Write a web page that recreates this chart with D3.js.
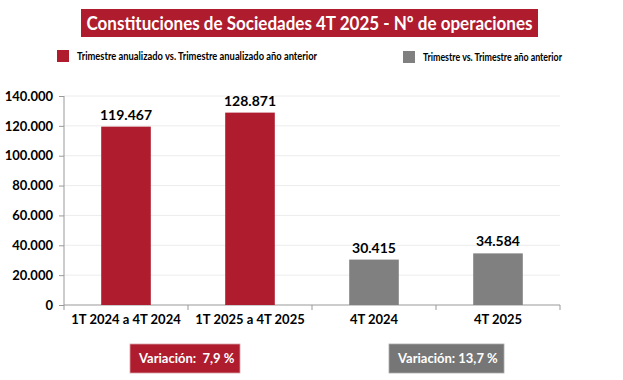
<!DOCTYPE html>
<html>
<head>
<meta charset="utf-8">
<script src="https://cdn.jsdelivr.net/npm/d3@7"></script>
<style>
  body { margin: 0; background: #fff; }
  svg { display: block; font-family: Lato, "Open Sans", sans-serif; }
</style>
</head>
<body>
<div id="chart"></div>
<script>
const categories = ["1T 2024 a 4T 2024", "1T 2025 a 4T 2025", "4T 2024", "4T 2025"];
const values = [119467, 128871, 30415, 34584];
const groups = ["anual", "anual", "trim", "trim"];
const yTicks = [0, 20000, 40000, 60000, 80000, 100000, 120000, 140000];
const legendLabels = ["Trimestre anualizado vs. Trimestre anualizado año anterior", "Trimestre vs. Trimestre año anterior"];
const variations = ["Variación:  7,9 %", "Variación: 13,7 %"];
const title = "Constituciones de Sociedades 4T 2025 - Nº de operaciones";

const red = "#AE1C2E", grey = "#808080";
const colour = d3.scaleOrdinal().domain(["anual", "trim"]).range([red, grey]);
const fmt = d3.formatLocale({ decimal: ",", thousands: ".", grouping: [3], currency: ["", "€"] }).format(",d");

const W = 623, H = 380;
const svg = d3.select("#chart").append("svg").attr("width", W).attr("height", H);

const x = d3.scaleBand().domain(categories).range([64, 560]).paddingInner(0.6).paddingOuter(0.3);
const y = d3.scaleLinear().domain([0, 140000]).range([305, 96]);

// title
const tg = svg.append("g");
tg.append("rect").attr("x", 81).attr("y", 9).attr("width", 457).attr("height", 28).attr("fill", red);
tg.append("text").attr("x", 309.5).attr("y", 29.5).attr("text-anchor", "middle")
  .attr("fill", "#fff").attr("font-weight", "bold").attr("font-size", 19)
  .attr("textLength", 446).attr("lengthAdjust", "spacingAndGlyphs").text(title);

// legend
const legX = [57, 403], legTextW = [240, 139];
legendLabels.forEach((l, i) => {
  svg.append("rect").attr("x", legX[i]).attr("y", 50 + i).attr("width", 12).attr("height", 12)
    .attr("fill", i ? grey : red);
  svg.append("text").attr("x", legX[i] + 20).attr("y", 60 + i).attr("font-size", 11)
    .attr("font-weight", "bold").attr("fill", "#000")
    .attr("textLength", legTextW[i]).attr("lengthAdjust", "spacingAndGlyphs").text(l);
});

// gridlines
svg.append("g").selectAll("line").data(yTicks.slice(1)).join("line")
  .attr("x1", 64).attr("x2", 560).attr("y1", d => y(d)).attr("y2", d => y(d))
  .attr("stroke", "#ececec").attr("stroke-width", 1);

// y axis
const ya = svg.append("g").attr("transform", "translate(64,0)")
  .call(d3.axisLeft(y).tickValues(yTicks).tickFormat(fmt).tickSize(5).tickPadding(6));
ya.select(".domain").attr("stroke", "#999").attr("d", `M0,${y(140000)}V${y(0)}`);
ya.selectAll(".tick line").attr("stroke", "#999");
ya.selectAll("text").attr("font-size", 13).attr("font-weight", "bold").attr("fill", "#000")
  .attr("font-family", "Lato");

// x axis
const xa = svg.append("g").attr("transform", `translate(0,${y(0)})`)
  .call(d3.axisBottom(x).tickSize(0).tickPadding(10));
xa.select(".domain").attr("stroke", "#999").attr("d", "M64,0H560");
xa.selectAll("text").attr("font-size", 13).attr("font-weight", "bold").attr("fill", "#000")
  .attr("font-family", "Lato");
const bounds = d3.range(categories.length + 1).map(i => 64 + i * (496 / categories.length));
xa.append("g").selectAll("line").data(bounds).join("line")
  .attr("x1", d => d).attr("x2", d => d).attr("y1", 0).attr("y2", 5).attr("stroke", "#999");

// bars
svg.append("g").selectAll("rect").data(values).join("rect")
  .attr("x", (d, i) => x(categories[i])).attr("width", x.bandwidth())
  .attr("y", d => y(d)).attr("height", d => y(0) - y(d))
  .attr("fill", (d, i) => colour(groups[i]));

// value labels
svg.append("g").selectAll("text").data(values).join("text")
  .attr("x", (d, i) => x(categories[i]) + x.bandwidth() / 2).attr("y", d => y(d) - 7)
  .attr("text-anchor", "middle").attr("font-size", 14).attr("font-weight", "bold")
  .text(d => fmt(d));

// variation boxes
const boxX = [130, 389], boxW = [110, 115];
variations.forEach((v, i) => {
  svg.append("rect").attr("x", boxX[i]).attr("y", 344).attr("width", boxW[i]).attr("height", 29)
    .attr("fill", i ? "#767676" : red).attr("stroke", i ? "#aaa" : "#d9a0a8").attr("stroke-width", 0.8);
  svg.append("text").attr("x", boxX[i] + 9).attr("y", 363).attr("fill", "#fff")
    .attr("xml:space", "preserve").style("white-space", "pre")
    .attr("font-size", 13).attr("font-weight", "bold").text(v);
});
</script>
</body>
</html>
